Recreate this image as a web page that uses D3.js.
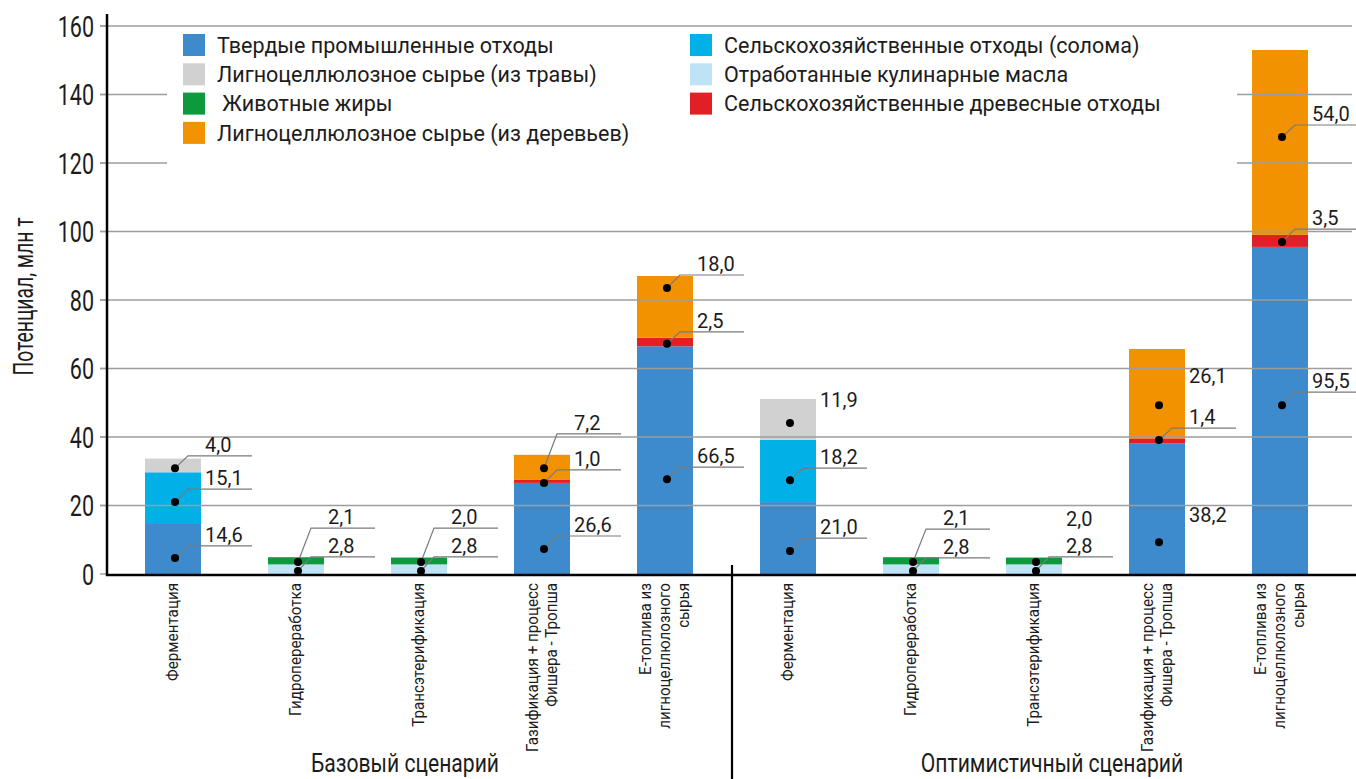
<!DOCTYPE html>
<html>
<head>
<meta charset="utf-8">
<script src="https://cdn.jsdelivr.net/npm/d3@7"></script>
<style>
  body { margin: 0; background: #fff; }
  svg text { font-family: Roboto, "DejaVu Sans", sans-serif; fill: #1c1c1c; }
</style>
</head>
<body>
<svg id="chart" width="1356" height="779"></svg>
<script>
// processes (same five for each scenario)
const processes = [
  ["Ферментация"],
  ["Гидропереработка"],
  ["Трансэтерификация"],
  ["Газификация + процесс", "Фишера - Тропша"],
  ["Е-топлива из", "лигноцеллюлозного", "сырья"]
];
const scenarios = ["Базовый сценарий", "Оптимистичный сценарий"];

// values per bar, млн т (5 base + 5 optimistic)
const solid     = [14.6, 0,   0,   26.6, 66.5, 21.0, 0,   0,   38.2, 95.5];
const straw     = [15.1, 0,   0,   0,    0,    18.2, 0,   0,   0,    0];
const oil       = [0,    2.8, 2.8, 0,    0,    0,    2.8, 2.8, 0,    0];
const fat       = [0,    2.1, 2.0, 0,    0,    0,    2.1, 2.0, 0,    0];
const woodWaste = [0,    0,   0,   1.0,  2.5,  0,    0,   0,   1.4,  3.5];
const grass     = [4.0,  0,   0,   0,    0,    11.9, 0,   0,   0,    0];
const wood      = [0,    0,   0,   7.2,  18.0, 0,    0,   0,   26.1, 54.0];

const seriesKeys = ["solid", "straw", "oil", "fat", "woodWaste", "grass", "wood"];
const seriesValues = [solid, straw, oil, fat, woodWaste, grass, wood];
const seriesNames = [
  "Твердые промышленные отходы",
  "Сельскохозяйственные отходы (солома)",
  "Отработанные кулинарные масла",
  " Животные жиры",
  "Сельскохозяйственные древесные отходы",
  "Лигноцеллюлозное сырье (из травы)",
  "Лигноцеллюлозное сырье (из деревьев)"
];
const seriesColors = ["#3d8bcc", "#00b0e7", "#bee3f7", "#0d9a3d", "#e31f26", "#d1d1d1", "#f39200"];
const legendLeft = ["solid", "grass", "fat", "wood"];
const legendRight = ["straw", "oil", "woodWaste"];

const yTicks = [0, 20, 40, 60, 80, 100, 120, 140, 160];

// callouts: bar, series, dot value, label line value, leader drawn
const callouts = [
  [0, "grass", 30.9, 34.5, 1], [0, "straw", 21.0, 24.8, 1], [0, "solid", 4.7, 8.2, 1],
  [1, "fat", 3.5, 13.4, 1], [1, "oil", 0.9, 5.0, 1],
  [2, "fat", 3.5, 13.4, 1], [2, "oil", 0.9, 5.0, 1],
  [3, "wood", 30.9, 40.9, 1], [3, "woodWaste", 26.6, 30.4, 1], [3, "solid", 7.3, 11.1, 1],
  [4, "wood", 83.5, 87.3, 1], [4, "woodWaste", 67.2, 70.7, 1], [4, "solid", 27.7, 31.2, 1],
  [5, "grass", 44.1, 47.6, 0], [5, "straw", 27.4, 30.9, 1], [5, "solid", 6.7, 10.5, 1],
  [6, "fat", 3.5, 13.1, 1], [6, "oil", 0.9, 4.7, 1],
  [7, "fat", 3.5, 12.8, 0], [7, "oil", 0.9, 5.0, 1],
  [8, "wood", 49.3, 54.6, 0], [8, "woodWaste", 39.1, 42.6, 1], [8, "solid", 9.3, 14.0, 0],
  [9, "wood", 127.6, 131.1, 1], [9, "woodWaste", 96.9, 100.7, 1], [9, "solid", 49.3, 53.1, 1]
];

const svg = d3.select("#chart");
const bars = d3.range(10);

const x = d3.scaleBand().domain(bars).range([111.5, 1341.5])
  .paddingInner(0.545).paddingOuter(0.2725);
const y = d3.scaleLinear().domain([0, 160]).range([574, 26]);
const color = d3.scaleOrdinal().domain(seriesKeys).range(seriesColors);
const fmt = v => d3.format(".1f")(v).replace(".", ",");

// stacked table
const table = bars.map(i => {
  const row = { i };
  seriesKeys.forEach((k, j) => row[k] = seriesValues[j][i]);
  return row;
});
const stacked = d3.stack().keys(seriesKeys)(table);

svg.append("g").selectAll("g")
  .data(stacked)
  .join("g")
  .attr("fill", d => color(d.key))
  .selectAll("rect")
  .data(d => d.filter(s => s[1] > s[0]))
  .join("rect")
  .attr("x", d => x(d.data.i))
  .attr("width", x.bandwidth())
  .attr("y", d => y(d[1]))
  .attr("height", d => y(d[0]) - y(d[1]));

// gridlines over the bars
svg.append("g").selectAll("line")
  .data(yTicks.slice(1))
  .join("line")
  .attr("x1", 100).attr("x2", 1352)
  .attr("y1", d => y(d)).attr("y2", d => y(d))
  .attr("stroke", "#9d9d9d").attr("stroke-width", 1.4);

// legend
svg.append("rect").attr("x", 167).attr("y", 31).attr("width", 1070).attr("height", 139).attr("fill", "#fff");
const legend = svg.append("g").attr("font-size", 21.5);
function legendColumn(keys, x0) {
  const g = legend.append("g").selectAll("g").data(keys).join("g")
    .attr("transform", (d, i) => `translate(${x0},${45 + i * 29.3})`);
  g.append("rect").attr("x", 0).attr("y", -11).attr("width", 22).attr("height", 22)
    .attr("fill", d => color(d));
  g.append("text").attr("x", 34).attr("dy", "0.36em")
    .style("white-space", "pre")
    .text(d => seriesNames[seriesKeys.indexOf(d)]);
}
legendColumn(legendLeft, 183);
legendColumn(legendRight, 690);

// y axis
const yAxis = svg.append("g");
yAxis.selectAll("line.tick").data(yTicks).join("line")
  .attr("class", "tick")
  .attr("x1", 100).attr("x2", 107)
  .attr("y1", d => y(d)).attr("y2", d => y(d))
  .attr("stroke", "#9d9d9d").attr("stroke-width", 1.4);
yAxis.selectAll("text").data(yTicks).join("text")
  .attr("transform", d => `translate(94,${y(d) + 10.5}) scale(0.73,1)`)
  .attr("text-anchor", "end")
  .attr("font-size", 29.5)
  .text(d => d);
svg.append("line").attr("x1", 107).attr("x2", 107).attr("y1", 14).attr("y2", 576)
  .attr("stroke", "#000").attr("stroke-width", 2.5);
svg.append("text")
  .attr("transform", `translate(33,${y(81)}) rotate(-90) scale(0.69,1)`)
  .attr("text-anchor", "middle")
  .attr("font-size", 28)
  .text("Потенциал, млн т");

// x axis
svg.append("line").attr("x1", 106).attr("x2", 1356).attr("y1", 575).attr("y2", 575)
  .attr("stroke", "#000").attr("stroke-width", 2.5);
svg.append("line").attr("x1", x(5) - 28).attr("x2", x(5) - 28).attr("y1", 565).attr("y2", 779)
  .attr("stroke", "#000").attr("stroke-width", 2.2);

// category labels
svg.append("g").selectAll("text").data(bars).join("text")
  .attr("font-size", 16)
  .attr("text-anchor", "end")
  .attr("transform", i => `translate(${x(i) + x.bandwidth() / 2 + 5},583) rotate(-90) scale(0.95,1)`)
  .each(function (i) {
    const lines = processes[i % 5];
    d3.select(this).selectAll("tspan").data(lines).join("tspan")
      .attr("x", 0)
      .attr("y", (d, k) => (k - (lines.length - 1) / 2) * 19)
      .text(d => d);
  });

// scenario titles
svg.append("g").selectAll("text").data(scenarios).join("text")
  .attr("transform", (d, k) => `translate(${k ? 1052 : 405},772) scale(0.845,1)`)
  .attr("text-anchor", "middle")
  .attr("font-size", 25)
  .text(d => d);

// callouts
const cg = svg.append("g");
callouts.forEach(([i, key, dotV, lineV, leader]) => {
  const cx = x(i) + x.bandwidth() / 2 + 2;
  const dy = y(dotV), ly = y(lineV);
  if (leader) {
    cg.append("polyline")
      .attr("points", `${cx},${dy} ${cx + 13},${ly} ${cx + 77},${ly}`)
      .attr("fill", "none").attr("stroke", "#7a7a7a").attr("stroke-width", 1.2);
  }
  cg.append("circle").attr("cx", cx).attr("cy", dy).attr("r", 4).attr("fill", "#000");
  cg.append("text").attr("x", cx + 30).attr("y", ly - 4)
    .attr("font-size", 20)
    .text(fmt(seriesValues[seriesKeys.indexOf(key)][i]));
});
</script>
</body>
</html>
